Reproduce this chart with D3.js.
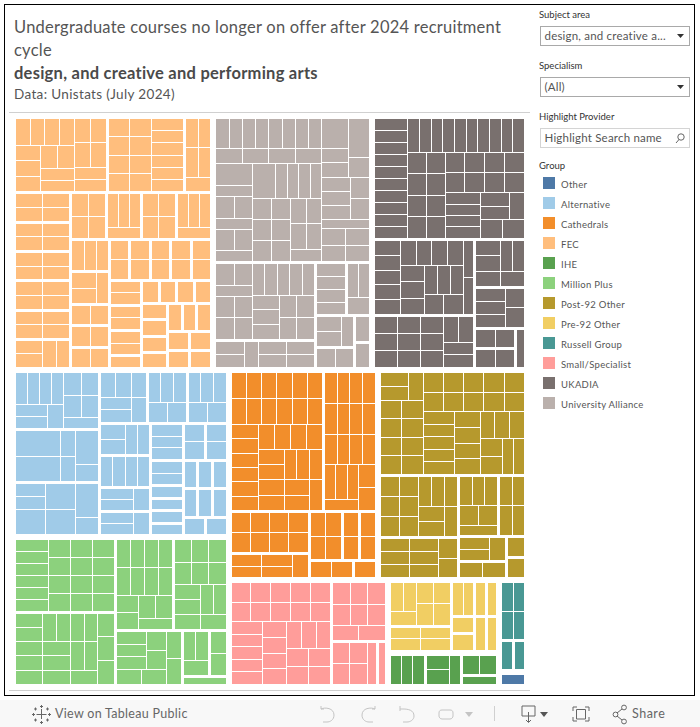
<!DOCTYPE html>
<html>
<head>
<meta charset="utf-8">
<script src="https://cdnjs.cloudflare.com/ajax/libs/d3/7.8.5/d3.min.js"></script>
<style>
  html, body { margin: 0; padding: 0; background: #fff; }
  svg { display: block; font-family: Lato, sans-serif; }
</style>
</head>
<body>
<svg id="chart" width="700" height="727"></svg>
<script>
const titleLines = ['Undergraduate courses no longer on offer after 2024 recruitment', 'cycle'];
const subjectLine = 'design, and creative and performing arts';
const sourceLine = 'Data: Unistats (July 2024)';

const groupNames = ['Other', 'Alternative', 'Cathedrals', 'FEC', 'IHE', 'Million Plus', 'Post-92 Other',
  'Pre-92 Other', 'Russell Group', 'Small/Specialist', 'UKADIA', 'University Alliance'];
const groupColors = ['#4e79a7', '#a0cbe8', '#f28e2b', '#ffbe7d', '#59a14f', '#8cd17d', '#b6992d',
  '#f1ce63', '#499894', '#ff9d9a', '#79706e', '#bab0ac'];

// course counts per group. first item of a list says how its
// parts sit: r = side by side, c = stacked; capitals are provider level (wider gap)
const otherCells = ['c', 1];

const alternativeCells = ['R',
  ['C',
    ['r', ['c', ['r', 1, 1, 1, 1], ['r', ['c', 1, 1], 1]], ['c', ['r', 1, 1], ['r', 1, 1], 1]],
    ['r', ['c', 3, 3], ['c', 1, 1], ['c', 2, 1]],
    ['r', ['c', 1, 1, 2], ['c', 2, 2], ['c', 2, 1]]],
  ['C',
    ['R',
      ['c', ['r', 1, 1, 1], ['r', ['c', 1, 1], 1]],
      ['c', ['r', 1, 1, 1], ['r', 1, 1]],
      ['c', ['r', 1, 1, 1], ['r', 1, 1]]],
    ['R',
      ['C', ['r', ['c', 1, 1], 1, 1], ['r', 1, 1, 1, 1], ['r', ['c', 1, 1], 1], ['r', ['c', 1, 1], 1]],
      ['C', ['c', 1, 1, 1], ['c', 1, 1], 1, 1, 1, 1],
      ['C',
        ['R', ['c', 1, 1], ['c', 1, 1]],
        ['R', ['C', 1, 1], ['C', 1, 1], ['C', 1, 1]],
        ['R', 1, 1]]]]];

const cathedralCells = ['C',
  ['R',
    ['c', ['r', 1, 1, 1, 1, 1, 1], ['r', 1, 1, 1, 1, 1, 1],
      ['r', ['c', 1, 1, 1, 1, 1, 1],
        ['c', ['r', 1, 1, 1, 1], ['r', ['c', 1, 1], 1, 1, 1], ['r', ['c', 1, 1], ['c', 1, 1], 1]]]],
    ['c', ['r', 1, 1, 1, 1], ['r', 1, 1, 1, 1], ['r', 1, 1, 1, 1],
      ['r', ['c', ['r', 1, 1, 1], 1], ['c', 1, 1]]]],
  ['R',
    ['C', ['c', ['r', 1, 1, 1, 1], ['r', 1, 1, 1, 1]], ['r', ['c', 1, 1], ['c', 1, 1], 1]],
    ['C',
      ['R', ['c', ['r', 1, 1], ['r', 1, 1]], ['c', 1, 1], ['c', 1, 1]],
      ['R', ['r', 1, 1], 1]]]];

const fecSmallest = ['C',
  ['R', 1, 1, 1, 1],
  ['R',
    ['C', 1, 1, 1, 1],
    ['C', ['R', 1, 1, 1], ['C', ['R', 1, 1], ['R', 1, 1]]]]];

const fecLower = ['C',
  ['R',
    ['c', ['r', 1, 1], ['r', 1, 1]],
    ['c', ['r', 1, 1, 1], 1],
    ['c', ['r', 1, 1], ['r', 1, 1]],
    ['c', ['r', 1, 1, 1], 1]],
  ['R',
    ['C', ['r', 1, 1, 1], ['r', ['c', 1, 1], 1], ['r', 1, 1], ['r', 1, 1], ['r', 1, 1]],
    ['C',
      ['R', ['c', 1, 1], ['c', 1, 1], ['c', 1, 1], ['c', 1, 1], ['c', 1, 1]],
      ['R', ['C', ['c', 1, 1], ['c', 1, 1], ['c', 1, 1], 1], fecSmallest]]]];

const fecCells = ['C',
  ['R',
    ['r',
      ['c', ['r', 1, 1, 1, 1], ['r', ['c', 1, 1, 1], ['c', ['r', 1, 1], 1, 1]]],
      ['c', ['r', 1, 1], ['r', 1, 1], 1, 1]],
    ['r', ['c', ['r', 1, 1], ['r', 1, 1], ['r', 1, 1], ['r', 1, 1]], ['c', 1, 1, 1, 1, 1, 1]],
    ['c', ['r', 1, 1], ['r', 1, 1], 1]],
  ['R',
    ['C',
      ['c', ['r', 1, 1], ['r', 1, 1]],
      ['c', ['r', 1, 1], ['r', 1, 1]],
      ['c', ['r', 1, 1], ['r', 1, 1]],
      ['c', ['r', 1, 1], ['r', 1, 1]],
      ['c', ['r', 1, 1], ['r', 1, 1]],
      ['r', ['c', 1, 1], 1, 1]],
    fecLower]];

const iheCells = ['R', ['r', 1, 1, 1], ['r', ['c', 1, 1], 1], ['C', ['r', 1, 1], 1]];

const millionCells = ['R',
  ['C',
    ['r', ['c', 1, 1, 1, 1, 1, 1],
      ['c', ['r', 1, 1, 1], ['r', 1, 1, 1], ['r', 1, 1, 1], ['r', 1, 1, 1]]],
    ['r', ['c', 1, 1, 1, 1, 1], ['c', ['r', 1, 1], 1, 1, 1], ['c', ['r', 1, 1], ['r', 1, 1], 1], ['c', 1, 1, 1]]],
  ['C',
    ['R',
      ['c', ['r', 1, 1, 1, 1], ['r', 1, 1, 1, 1], ['r', ['c', 1, 1], ['c', ['r', 1, 1], 1]]],
      ['c', ['r', 1, 1, 1], ['r', 1, 1, 1], ['r', ['c', 1, 1], ['r', 1, 1]], ['r', 1, 1]]],
    ['R',
      ['r', ['c', ['r', ['c', 1, 1, 1], ['c', 1, 1]], ['r', 1, 1]], ['c', 1, 1]],
      ['C', ['R', ['c', ['r', 1, 1], 1], ['c', 1, 1]], 1]]]];

const post92Cells = ['C',
  ['r',
    ['c', ['r', ['c', 1, 1], 1], ['r', 1, 1], ['r', 1, 1], ['r', 1, 1], ['r', 1, 1]],
    ['c', ['r', 1, 1, 1, 1, 1], ['r', 1, 1, 1, 1, 1],
      ['r', ['c', 1, 1, 1, 1, 1], ['c', 1, 1, 1, 1],
        ['c', ['r', 1, 1, 1], ['r', ['c', 1, 1], 1, 1]]]]],
  ['R',
    ['C',
      ['r', ['c', ['r', 1, 1], ['r', 1, 1], ['r', 1, 1]], ['c', ['r', 1, 1, 1], ['r', ['c', 1, 1], 1]]],
      ['r', ['c', ['r', 1, 1], ['r', 1, 1], ['r', 1, 1]], ['c', 1, 1]]],
    ['C',
      ['R', ['c', ['r', 1, 1, 1], ['r', 1, 1], 1], ['c', ['r', 1, 1], ['r', 1, 1]]],
      ['R', ['C', ['r', ['c', 1, 1], 1], ['r', 1, 1]], ['C', 1, 1]]]]];

const pre92Cells = ['R',
  ['C',
    ['r', ['c', ['r', 1, 1], 1], ['c', ['r', 1, 1], ['r', 1, 1]]],
    ['c', ['r', 1, 1], ['r', 1, 1]]],
  ['C', ['r', 1, 1], ['C', 1, 1]],
  ['C', 1, 1],
  ['C', 1, 1]];

const russellCells = ['C', ['c', ['r', 1, 1], ['r', 1, 1]], ['R', 1, 1]];

const smallCells = ['R',
  ['c', ['r', 1, 1, 1, 1, 1], ['r', 1, 1, 1, 1, 1],
    ['r', ['c', 1, 1, 1, 1, 1], ['c', 1, 1, 1, 1], ['c', ['r', 1, 1, 1], ['r', 1, 1], ['r', 1, 1]]]],
  ['C',
    ['c', ['r', 1, 1, 1], ['r', 1, 1, 1], ['r', 1, 1]],
    ['R', ['r', ['c', ['r', 1, 1], ['r', 1, 1]], 1], 1]]];

const ukadiaCells = ['C',
  ['r', ['c', 1, 1, 1, 1, 1, 1, 1, 1, 1, 1],
    ['c', ['r', 1, 1, 1, 1, 1, 1, 1, 1, 1, 1],
      ['r',
        ['c', ['r', 1, 1], ['r', 1, 1], ['r', 1, 1], ['r', 1, 1]],
        ['c', ['r', 1, 1, 1, 1], ['r', 1, 1, 1, 1],
          ['r', ['c', 1, 1, 1, 1], ['c', ['r', ['c', 1, 1], 1], ['r', 1, 1]]]]]]],
  ['R',
    ['C',
      ['r', ['c', 1, 1, 1, 1, 1],
        ['c', ['r', 1, 1, 1, 1], ['r', ['c', 1, 1, 1], ['c', ['r', 1, 1, 1], ['r', 1, 1]]]],
        ['c', 1, 1]],
      ['r', ['c', ['r', 1, 1, 1], ['r', 1, 1, 1], ['r', 1, 1, 1]], ['c', ['r', 1, 1], 1, 1]]],
    ['C',
      ['c', ['r', ['c', 1, 1], 1, 1], ['r', 1, 1]],
      ['r', ['c', 1, 1, 1], ['c', 1, 1]],
      ['R', ['C', ['r', 1, 1], ['r', 1, 1]], 1]]]];

const allianceCells = ['C',
  ['r',
    ['c', ['r', 1, 1, 1, 1, 1, 1, 1, 1], ['r', 1, 1, 1, 1],
      ['r', ['c', 2, 1, ['r', 1, 1], 1, ['r', 1, 1], 1],
        ['c', ['r', 2, 1, 1, 1, 1],
          ['r', ['c', ['r', 1, 1], ['r', 1, 1], ['r', 1, 1]], ['c', ['r', 1, 1], ['r', 1, 1], 1]]]]],
    ['c', ['r', ['c', 2, 1, 1], ['c', 2, 1]], ['r', ['c', 1, 1, 1], ['c', 1, 1]], 1, ['r', 1, 1], ['r', 1, 1]]],
  ['R',
    ['C',
      ['r', ['c', ['r', 1, 1], 1, ['r', 1, 1], ['r', 1, 1]],
        ['c', ['r', 1, 1, 1, 1, 1], ['r', ['c', 1, 1, 1], ['c', 1, 1], ['c', 1, 1]]]],
      ['r', ['c', 1, 1], 1, ['c', 1, 1], ['c', 1, 1]]],
    ['C',
      ['R', ['c', 1, 1, 1, 1], ['c', ['r', 1, 1], 1]],
      ['R', ['C', ['r', ['c', 1, 1], 1], ['r', 1, 1]], ['C', 1, 1]]]]];

const groupCells = [otherCells, alternativeCells, cathedralCells, fecCells, iheCells, millionCells,
  post92Cells, pre92Cells, russellCells, smallCells, ukadiaCells, allianceCells];

const filterLabels = ['Subject area', 'Specialism', 'Highlight Provider'];
const filterValues = ['design, and creative a...', '(All)', 'Highlight Search name'];

const svg = d3.select('#chart');
const ink = '#555555';

const margin = { top: 119, left: 16 },
  width = 508,
  height = 565;

// Treemap
const root = d3
  .hierarchy(['S', ...groupCells], function (d) {
    return Array.isArray(d) ? d.filter((v) => typeof v !== 'string') : null;
  })
  .sum((d) => (typeof d === 'number' ? d : 0));

const tile = function (node, x0, y0, x1, y1) {
  if (node.depth === 0) {
    node.children.sort((a, b) => b.value - a.value);
    d3.treemapSquarify(node, x0, y0, x1, y1);
  } else if (node.data[0].toLowerCase() === 'r') {
    d3.treemapDice(node, x0, y0, x1, y1);
  } else {
    d3.treemapSlice(node, x0, y0, x1, y1);
  }
};

d3
  .treemap()
  .size([width, height])
  .tile(tile)
  .paddingInner(function (d) {
    if (d.depth === 0) return 6;
    return d.data[0] === d.data[0].toUpperCase() ? 3 : 1;
  })
  .round(true)(root);

const color = d3.scaleOrdinal(groupCells, groupColors);

svg
  .append('g')
  .attr('transform', 'translate(' + margin.left + ',' + margin.top + ')')
  .selectAll('rect')
  .data(root.leaves())
  .join('rect')
  .attr('x', (d) => d.x0)
  .attr('y', (d) => d.y0)
  .attr('width', (d) => d.x1 - d.x0)
  .attr('height', (d) => d.y1 - d.y0)
  .attr('fill', (d) => color(d.ancestors().find((a) => a.depth === 1).data));

// Frame and rules
svg
  .append('rect')
  .attr('x', 4.5)
  .attr('y', 4.5)
  .attr('width', 690)
  .attr('height', 691)
  .attr('fill', 'none')
  .attr('stroke', '#000');

[112.5, 690.5].forEach(function (y) {
  svg
    .append('line')
    .attr('x1', 9)
    .attr('x2', 530)
    .attr('y1', y)
    .attr('y2', y)
    .attr('stroke', '#d0d0d0');
});

// Title
svg
  .selectAll('.title')
  .data(titleLines)
  .join('text')
  .attr('class', 'title')
  .attr('x', 14)
  .attr('y', (d, i) => 33 + i * 23)
  .attr('font-size', 16.5)
  .attr('letter-spacing', 0.24)
  .attr('fill', ink)
  .text((d) => d);

svg
  .append('text')
  .attr('x', 14)
  .attr('y', 79)
  .attr('font-size', 16.5)
  .attr('font-weight', 700)
  .attr('letter-spacing', 0.25)
  .attr('fill', '#4a4a4a')
  .text(subjectLine);

svg
  .append('text')
  .attr('x', 14)
  .attr('y', 99)
  .attr('font-size', 13.5)
  .attr('letter-spacing', 0.35)
  .attr('fill', ink)
  .text(sourceLine);

// Filters
const filterTop = [26, 77, 128];
filterLabels.forEach(function (label, i) {
  svg
    .append('text')
    .attr('x', 539)
    .attr('y', filterTop[i] - 8)
    .attr('font-size', 9.5)
    .attr('fill', '#333')
    .text(label);
  svg
    .append('rect')
    .attr('x', 540.5)
    .attr('y', filterTop[i] + 0.5)
    .attr('width', 149)
    .attr('height', 19)
    .attr('fill', '#fff')
    .attr('stroke', i === 2 ? '#d4d4d4' : '#a9a9a9');
  svg
    .append('text')
    .attr('x', 544.5)
    .attr('y', filterTop[i] + 14)
    .attr('font-size', 11.5)
    .attr('letter-spacing', 0.2)
    .attr('fill', ink)
    .text(filterValues[i]);
  if (i < 2) {
    svg
      .append('path')
      .attr('d', 'M677 ' + (filterTop[i] + 8) + 'h7l-3.5 4z')
      .attr('fill', '#333');
  }
});
svg
  .append('circle')
  .attr('cx', 681)
  .attr('cy', 137)
  .attr('r', 3.2)
  .attr('fill', 'none')
  .attr('stroke', '#666');
svg.append('path').attr('d', 'M679 139.5l-3 3.5').attr('stroke', '#666');

// Legend
svg
  .append('text')
  .attr('x', 539)
  .attr('y', 169)
  .attr('font-size', 9.5)
  .attr('fill', '#333')
  .text('Group');

const legendY = d3
  .scalePoint()
  .domain(groupNames)
  .range([177, 397]);

const legend = svg
  .append('g')
  .selectAll('g')
  .data(groupNames)
  .join('g')
  .attr('transform', (d) => 'translate(543,' + legendY(d) + ')');

legend
  .append('rect')
  .attr('width', 12)
  .attr('height', 12)
  .attr('fill', (d, i) => groupColors[i]);

legend
  .append('text')
  .attr('x', 18)
  .attr('y', 11)
  .attr('font-size', 9.5)
  .attr('letter-spacing', 0.3)
  .attr('fill', ink)
  .text((d) => d);

// Toolbar
svg
  .append('rect')
  .attr('y', 700)
  .attr('width', 700)
  .attr('height', 27)
  .attr('fill', '#f8f8f8');

const toolbar = svg.append('g').attr('fill', 'none').attr('stroke-width', 1);

toolbar
  .append('path')
  .attr('stroke', '#666')
  .attr('d', 'M41.5 709v10M36.5 714.5h10M41.5 705v3M40 706.5h3M41.5 721v3M40 722.5h3'
    + 'M33.5 713v3M32 714.5h3M49.5 713v3M48 714.5h3'
    + 'M35.5 707.5v3M34 709h3M47.5 707.5v3M46 709h3M35.5 718.5v3M34 720h3M47.5 718.5v3M46 720h3');

toolbar
  .append('path')
  .attr('stroke', '#c4c4c4')
  .attr('d', 'M321 709v-3M321 709h3M321 709c4 -2 13 -1 13 6c0 5 -4 7 -7 7h-4'
    + 'M375 709v-3M375 709h-3M375 709c-4 -2 -13 -1 -13 6c0 5 4 7 7 7h4'
    + 'M400 706v5M400 709h3c5 0 11 1 11 7c0 4 -4 6 -7 6h-4'
    + 'M442 710h8c2 0 3 1 3 3v3c0 1 -1 3 -3 3h-8c-2 0 -3 -2 -3 -3v-3c0 -2 1 -3 3 -3z');
toolbar.append('path').attr('fill', '#c4c4c4').attr('d', 'M465 712h8l-4 5z');
toolbar.append('line').attr('x1', 494.5).attr('x2', 494.5).attr('y1', 706).attr('y2', 721).attr('stroke', '#d0d0d0');

toolbar
  .append('path')
  .attr('stroke', '#666')
  .attr('d', 'M529 716h6v-10h-13v10h6M528.5 712v10M526 720l2.5 2.5l2.5 -2.5');
toolbar.append('path').attr('fill', '#555').attr('d', 'M540 712h8l-4 5z');
toolbar
  .append('path')
  .attr('stroke', '#666')
  .attr('d', 'M573 711v-4h4M585 707h4v4M589 717v4h-4M577 721h-4v-4M576.5 709.5h9v9.5h-9z');
toolbar
  .append('path')
  .attr('stroke', '#666')
  .attr('d', 'M617 713l5 -4M617 716l5 4');
[[615.5, 714.5, 2.4], [624, 707.5, 2.4], [624, 721.5, 2.4]].forEach(function (c) {
  toolbar.append('circle').attr('cx', c[0]).attr('cy', c[1]).attr('r', c[2]).attr('stroke', '#666');
});

svg
  .append('text')
  .attr('x', 55)
  .attr('y', 718)
  .attr('font-size', 12.5)
  .attr('letter-spacing', 0.3)
  .attr('fill', '#666')
  .text('View on Tableau Public');
svg
  .append('text')
  .attr('x', 632)
  .attr('y', 718)
  .attr('font-size', 12.5)
  .attr('letter-spacing', 0.5)
  .attr('fill', '#666')
  .text('Share');
</script>
</body>
</html>
